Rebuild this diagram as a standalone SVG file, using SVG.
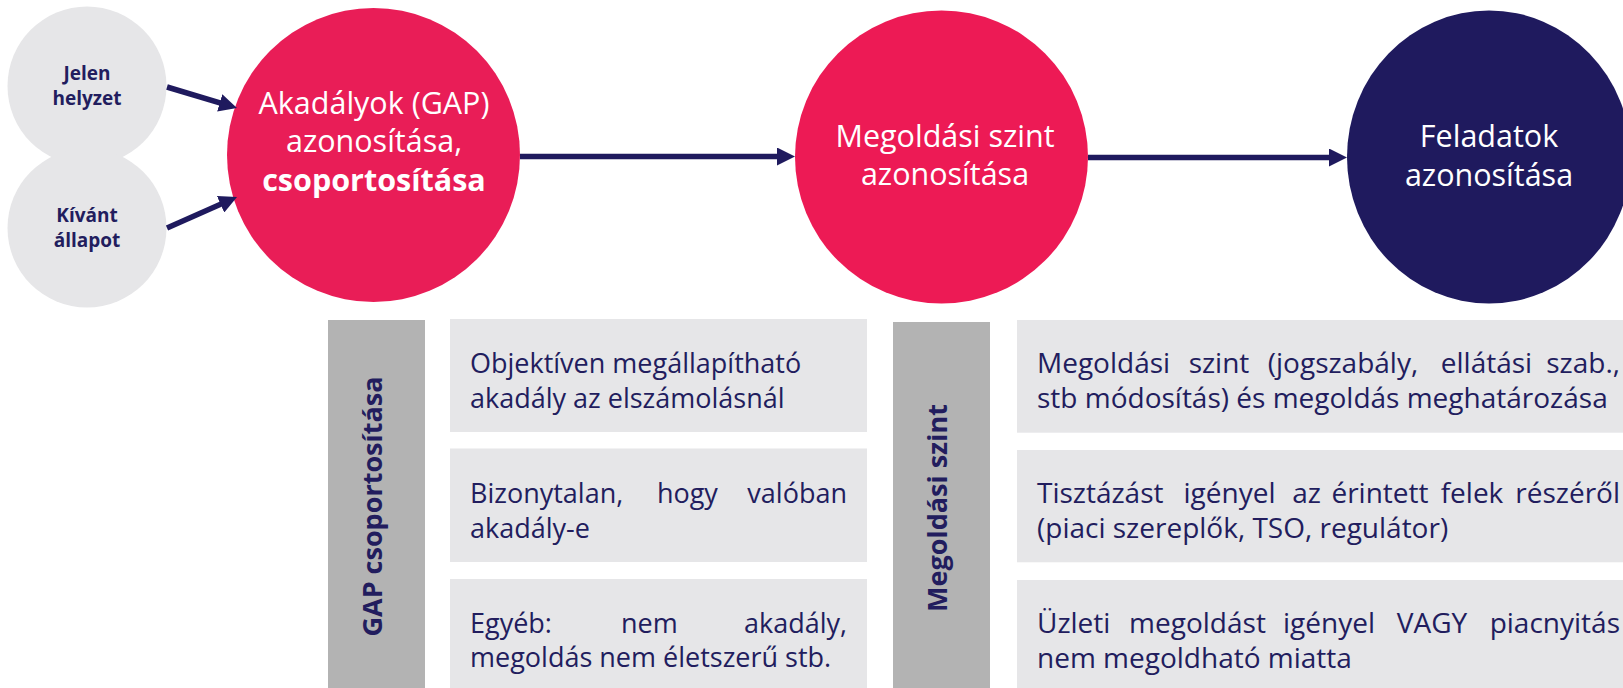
<svg xmlns="http://www.w3.org/2000/svg" width="1623" height="688" viewBox="0 0 1623 688">
<defs>
<style>
.small{fill:#E6E6E8}
.red1{fill:#E91D57}
.red2{fill:#ED1A55}
.navyc{fill:#1F1A5E}
.bar{fill:#B3B3B3}
.box{fill:#E6E6E8}
.conn{stroke:#1F1A5E;stroke-width:5.5;fill:none;marker-end:url(#ah)}
.lbl{font-family:"Open Sans","Noto Sans","Liberation Sans",sans-serif;font-weight:700;font-size:19px;fill:#221D5E;text-anchor:middle}
.big{font-family:"Open Sans","Noto Sans","Liberation Sans",sans-serif;font-size:30.5px;fill:#FFFFFF;text-anchor:middle}
.bold{font-weight:700}
.side{font-family:"Open Sans","Noto Sans","Liberation Sans",sans-serif;font-weight:700;font-size:27px;fill:#221D5E;text-anchor:middle}
.t1{font-family:"Open Sans","Noto Sans","Liberation Sans",sans-serif;font-size:27px;fill:#221D5E}
.t2{font-family:"Open Sans","Noto Sans","Liberation Sans",sans-serif;font-size:28px;fill:#221D5E}
.m{text-anchor:middle}
.e{text-anchor:end}
</style>
<marker id="ah" markerUnits="userSpaceOnUse" markerWidth="18" markerHeight="18" viewBox="0 0 18 18" refX="8" refY="9" orient="auto">
<path d="M0,0 L18,9 L0,18 Z" fill="#1F1A5E"/>
</marker>
</defs>

<g id="node-jelen">
<circle class="small" cx="87" cy="86" r="79.5"/>
<text class="lbl" x="87" y="80">Jelen<tspan x="87" dy="25">helyzet</tspan></text>
</g>
<g id="node-kivant">
<circle class="small" cx="87" cy="228" r="79.5"/>
<text class="lbl" x="87" y="222">Kívánt<tspan x="87" dy="25">állapot</tspan></text>
</g>

<g id="node-akadalyok">
<ellipse class="red1" cx="373.5" cy="155" rx="146.5" ry="147"/>
<text class="big" x="374" y="114">Akadályok (GAP)<tspan x="374" dy="38">azonosítása,</tspan><tspan class="bold" x="374" dy="39">csoportosítása</tspan></text>
</g>

<g id="node-megoldasi">
<ellipse class="red2" cx="941.5" cy="157" rx="146.5" ry="146.5"/>
<text class="big" x="945" y="147">Megoldási szint<tspan x="945" dy="38">azonosítása</tspan></text>
</g>

<g id="node-feladatok">
<ellipse class="navyc" cx="1489" cy="157" rx="142" ry="146.5"/>
<text class="big" x="1489" y="147">Feladatok<tspan x="1489" dy="39">azonosítása</tspan></text>
</g>

<g id="connectors">
<line class="conn" x1="167" y1="87" x2="227.4" y2="105.1"/>
<line class="conn" x1="167" y1="228" x2="227.9" y2="201.05"/>
<line class="conn" x1="520" y1="156.5" x2="785" y2="156.5"/>
<line class="conn" x1="1088" y1="157.5" x2="1337" y2="157.5"/>
</g>

<g id="gap-csoportositasa">
<rect class="bar" x="328" y="320" width="97" height="368"/>
<text class="side" transform="translate(372.5,506.5) rotate(-90)" y="9.6">GAP csoportosítása</text>
</g>

<g id="gap-box-1">
<rect class="box" x="450" y="319" width="417" height="113"/>
<text class="t1" x="470" y="373">Objektíven megállapítható<tspan x="470" dy="35">akadály az elszámolásnál</tspan></text>
</g>
<g id="gap-box-2">
<rect class="box" x="450" y="448.5" width="417" height="113.5"/>
<text class="t1" x="470" y="503">Bizonytalan,</text>
<text class="t1 m" x="687.4" y="503">hogy</text>
<text class="t1 e" x="847" y="503">valóban</text>
<text class="t1" x="470" y="538">akadály-e</text>
</g>
<g id="gap-box-3">
<rect class="box" x="450" y="579" width="417" height="109"/>
<text class="t1" x="470" y="633">Egyéb:</text>
<text class="t1 m" x="649.4" y="633">nem</text>
<text class="t1 e" x="847" y="633">akadály,</text>
<text class="t1" x="470" y="667">megoldás nem életszerű stb.</text>
</g>

<g id="megoldasi-szint">
<rect class="bar" x="893" y="322" width="97" height="366"/>
<text class="side" transform="translate(937,508) rotate(-90)" y="9.6">Megoldási szint</text>
</g>

<g id="szint-box-1">
<rect class="box" x="1017" y="320" width="606" height="112.7"/>
<text class="t2" x="1037" y="373.3">Megoldási</text>
<text class="t2 m" x="1219" y="373.3">szint</text>
<text class="t2 m" x="1343" y="373.3">(jogszabály,</text>
<text class="t2 m" x="1486.5" y="373.3">ellátási</text>
<text class="t2 e" x="1620" y="373.3">szab.,</text>
<text class="t2" x="1037" y="408">stb módosítás) és megoldás meghatározása</text>
</g>
<g id="szint-box-2">
<rect class="box" x="1017" y="450" width="606" height="112.3"/>
<text class="t2" x="1037" y="503.3">Tisztázást</text>
<text class="t2 m" x="1229.5" y="503.3">igényel</text>
<text class="t2 m" x="1306.5" y="503.3">az</text>
<text class="t2 m" x="1380" y="503.3">érintett</text>
<text class="t2 m" x="1472" y="503.3">felek</text>
<text class="t2 e" x="1620" y="503.3">részéről</text>
<text class="t2" x="1037" y="538">(piaci szereplők, TSO, regulátor)</text>
</g>
<g id="szint-box-3">
<rect class="box" x="1017" y="580" width="606" height="108"/>
<text class="t2" x="1037" y="633.3">Üzleti</text>
<text class="t2 m" x="1197.5" y="633.3">megoldást</text>
<text class="t2 m" x="1329" y="633.3">igényel</text>
<text class="t2 m" x="1432" y="633.3">VAGY</text>
<text class="t2 e" x="1620" y="633.3">piacnyitás</text>
<text class="t2" x="1037" y="668">nem megoldható miatta</text>
</g>
</svg>
